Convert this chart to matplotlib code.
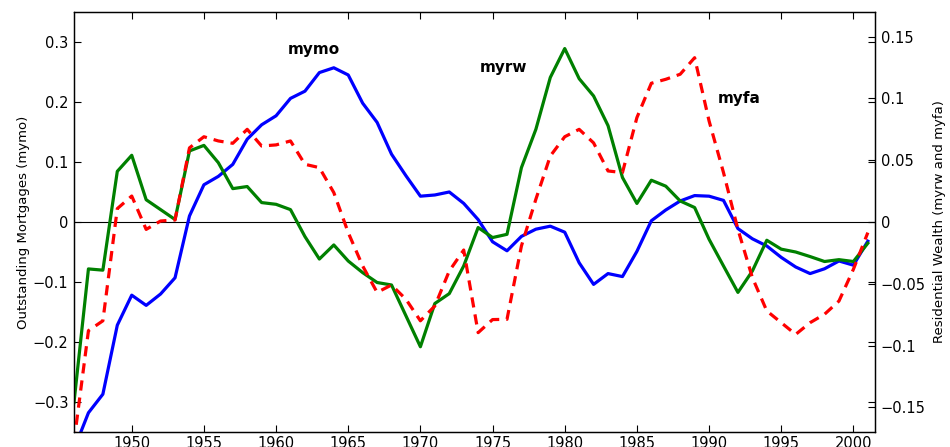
import numpy as np
import matplotlib.pyplot as plt
from matplotlib.ticker import FixedLocator, FixedFormatter

years = np.arange(1946, 2002)

# outstanding mortgages (left axis)
mymo = [-0.379, -0.318, -0.287, -0.172, -0.122, -0.139, -0.120, -0.093, 0.010, 0.062,
        0.076, 0.096, 0.138, 0.162, 0.177, 0.206, 0.218, 0.249, 0.257, 0.245,
        0.198, 0.166, 0.113, 0.077, 0.043, 0.045, 0.050, 0.031, 0.004, -0.033,
        -0.048, -0.024, -0.012, -0.007, -0.017, -0.068, -0.104, -0.086, -0.091, -0.049,
        0.002, 0.020, 0.035, 0.044, 0.043, 0.036, -0.011, -0.028, -0.040, -0.059,
        -0.075, -0.086, -0.078, -0.065, -0.072, -0.032]

# residential wealth (right axis)
myrw = [-0.146, -0.038, -0.039, 0.041, 0.054, 0.018, 0.010, 0.002, 0.0575, 0.062,
        0.048, 0.027, 0.0287, 0.0157, 0.0143, 0.010, -0.0118, -0.030, -0.0186, -0.0316,
        -0.041, -0.049, -0.051, -0.076, -0.101, -0.066, -0.058, -0.0356, -0.0045, -0.0126,
        -0.010, 0.044, 0.075, 0.117, 0.1404, 0.116, 0.102, 0.078, 0.036, 0.015,
        0.0338, 0.029, 0.017, 0.0117, -0.014, -0.0356, -0.057, -0.0397, -0.0148, -0.022,
        -0.0243, -0.028, -0.032, -0.0305, -0.032, -0.0172]

myfa = [-0.178, -0.088, -0.080, 0.0108, 0.021, -0.006, 0.0008, 0.0016, 0.060, 0.069,
        0.0656, 0.0637, 0.075, 0.0615, 0.0624, 0.0656, 0.0467, 0.044, 0.0238, -0.0086,
        -0.0356, -0.057, -0.051, -0.0626, -0.080, -0.068, -0.0397, -0.0227, -0.0896, -0.079,
        -0.0788, -0.0194, 0.0184, 0.0534, 0.069, 0.075, 0.064, 0.0413, 0.040, 0.0845,
        0.1123, 0.1155, 0.1196, 0.133, 0.0818, 0.040, -0.006, -0.045, -0.072, -0.0815,
        -0.091, -0.0815, -0.0747, -0.064, -0.0383, -0.0086]

left_ticks = [-0.3, -0.2, -0.1, 0, 0.1, 0.2, 0.3]
left_labels = ['\u22120.3', '\u22120.2', '\u22120.1', '0', '0.1', '0.2', '0.3']
right_ticks = [-0.15, -0.1, -0.05, 0, 0.05, 0.1, 0.15]
right_labels = ['\u22120.15', '\u22120.1', '\u22120.05', '0', '0.05', '0.1', '0.15']
x_ticks = [1950, 1955, 1960, 1965, 1970, 1975, 1980, 1985, 1990, 1995, 2000]

plt.rcParams['font.family'] = ['DejaVu Sans']

fig = plt.figure(figsize=(9.5, 4.47), dpi=100)
ax = fig.add_axes([0.0779, 0.0336, 0.8432, 0.9396])
ax2 = ax.twinx()

ax.axhline(0, color='black', lw=0.8)
ax.plot(years, mymo, color='#0000ff', lw=2.3)
ax2.plot(years, myrw, color='#008000', lw=2.3)
ax2.plot(years, myfa, color='#ff0000', lw=2.3, dashes=(3.2, 2.2))

ax.set_xlim(1946, 2001.5)
ax.set_ylim(-0.35, 0.35)
ax2.set_ylim(-0.17, 0.17)

ax.xaxis.set_major_locator(FixedLocator(x_ticks))
ax.set_xticklabels([str(t) for t in x_ticks], fontsize=10.5)
ax.yaxis.set_major_locator(FixedLocator(left_ticks))
ax.yaxis.set_major_formatter(FixedFormatter(left_labels))
ax2.yaxis.set_major_locator(FixedLocator(right_ticks))
ax2.yaxis.set_major_formatter(FixedFormatter(right_labels))

ax.tick_params(axis='both', direction='in', length=5, width=0.8, labelsize=10.5,
               top=True, right=True, pad=4)
ax.tick_params(axis='x', pad=3)
ax2.tick_params(axis='y', direction='in', length=5, width=0.8, labelsize=10.5, pad=4)

for a in (ax, ax2):
    for s in a.spines.values():
        s.set_linewidth(0.9)

ax.set_ylabel('Outstanding Mortgages (mymo)', fontsize=9.5, labelpad=2)
ax2.set_ylabel('Residential Wealth (myrw and myfa)', fontsize=9.5, labelpad=5)

ax.text(1960.8, 0.288, 'mymo', fontsize=11, fontweight='bold', va='center')
ax.text(1974.1, 0.257, 'myrw', fontsize=11, fontweight='bold', va='center')
ax.text(1990.6, 0.206, 'myfa', fontsize=11, fontweight='bold', va='center')

fig.savefig('out.png', dpi=100)
